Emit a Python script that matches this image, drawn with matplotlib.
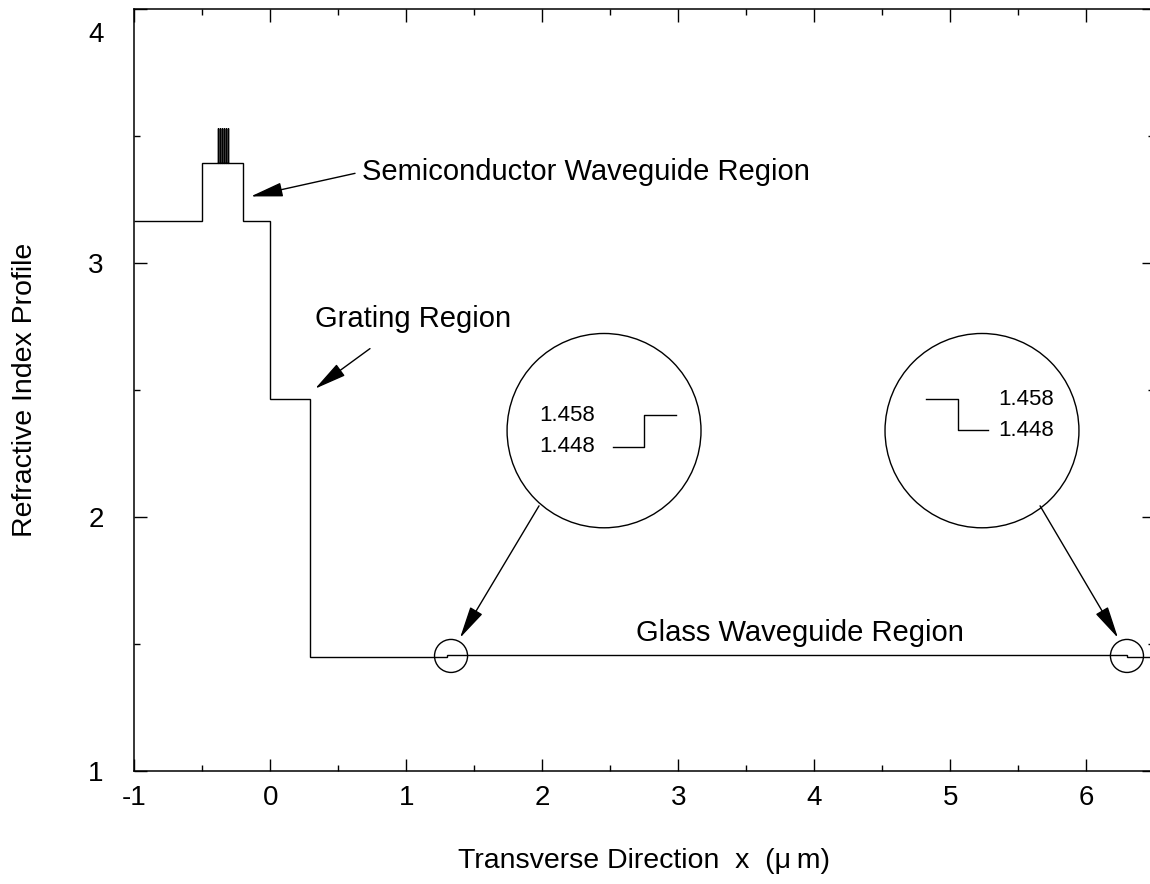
import matplotlib
matplotlib.use("Agg")
import matplotlib.pyplot as plt
from matplotlib.patches import Ellipse
from matplotlib.transforms import ScaledTranslation
from matplotlib.ticker import MultipleLocator

plt.rcParams['font.family'] = ['Liberation Sans', 'DejaVu Sans']

# Refractive index step profile (edges in um, values = index)
x_edges = [-1.0, -0.5, -0.388, -0.385, -0.373, -0.370, -0.358, -0.355, -0.343, -0.340,
           -0.328, -0.325, -0.314, -0.311, -0.2, 0.0, 0.29, 1.3, 6.3, 6.5]
n_values = [3.165, 3.395, 3.53, 3.395, 3.53, 3.395, 3.53, 3.395, 3.53, 3.395,
            3.53, 3.395, 3.53, 3.395, 3.165, 2.465, 1.448, 1.458, 1.448]

# Zoomed inset sketches
inset1_x = [2.522, 2.75, 2.75, 2.985]
inset1_y = [2.275, 2.275, 2.401, 2.401]
inset2_x = [4.824, 5.059, 5.059, 5.279]
inset2_y = [2.464, 2.464, 2.342, 2.342]
inset_labels = ["1.458", "1.448"]

x_ticks = [-1, 0, 1, 2, 3, 4, 5, 6]
y_ticks = [1, 2, 3, 4]

fig = plt.figure(figsize=(11.5, 8.84), dpi=100)
ax = fig.add_axes([134.3 / 1150, (884 - 771) / 884, (1154.3 - 134.3) / 1150, (771 - 9) / 884])

ax.stairs(n_values, x_edges, baseline=None, color='k', lw=1.0)

ax.set_xlim(-1, 6.5)
ax.set_ylim(1, 4)
ax.set_xticks(x_ticks)
ax.set_yticks(y_ticks)
ax.set_xticklabels([str(v) for v in x_ticks])
ax.set_yticklabels([str(v) for v in y_ticks])
ax.xaxis.set_minor_locator(MultipleLocator(0.5))
ax.yaxis.set_minor_locator(MultipleLocator(0.5))
ax.tick_params(which='both', direction='in', top=True, right=True, width=1.0)
ax.tick_params(which='major', length=9, labelsize=20)
ax.tick_params(which='minor', length=4.5)
ax.tick_params(axis='y', which='major', pad=22)
ax.tick_params(axis='x', which='major', pad=10)
for s in ax.spines.values():
    s.set_linewidth(1.1)

# shift the top "4" label down like the reference
for lab, v in zip(ax.get_yticklabels(), y_ticks):
    if v == 4:
        lab.set_transform(lab.get_transform() + ScaledTranslation(0, -0.23, fig.dpi_scale_trans))

ax.set_ylabel("Refractive Index Profile", fontsize=20.5, labelpad=36)
ax.set_xlabel("Transverse Direction  x  (\u03bc\u2009m)", fontsize=20.5, labelpad=27)

arrow = dict(arrowstyle='-|>,head_length=1.0,head_width=0.22', color='k', lw=1.0,
             shrinkA=0, shrinkB=0, mutation_scale=20)

ax.annotate("", xy=(-0.144, 3.262), xytext=(0.623, 3.353), arrowprops=arrow)
ax.text(0.674, 3.357, "Semiconductor Waveguide Region", fontsize=21, va='center', ha='left')

ax.annotate("", xy=(0.329, 2.505), xytext=(0.733, 2.663), arrowprops=arrow)
ax.text(0.329, 2.781, "Grating Region", fontsize=21, va='center', ha='left')

ax.annotate("", xy=(1.395, 1.524), xytext=(1.976, 2.044), arrowprops=arrow)
ax.annotate("", xy=(6.233, 1.524), xytext=(5.66, 2.044), arrowprops=arrow)

ax.text(3.895, 1.544, "Glass Waveguide Region", fontsize=21, va='center', ha='center')

for cx, cy, w, h in [(2.454, 2.340, 1.426, 0.765), (5.233, 2.340, 1.426, 0.765),
                     (1.329, 1.453, 0.243, 0.130), (6.299, 1.453, 0.243, 0.130)]:
    ax.add_patch(Ellipse((cx, cy), w, h, fill=False, ec='k', lw=1.0))

ax.plot(inset1_x, inset1_y, color='k', lw=1.0)
ax.plot(inset2_x, inset2_y, color='k', lw=1.0)
ax.text(2.387, 2.399, inset_labels[0], fontsize=16, ha='right', va='center')
ax.text(2.387, 2.277, inset_labels[1], fontsize=16, ha='right', va='center')
ax.text(5.351, 2.462, inset_labels[0], fontsize=16, ha='left', va='center')
ax.text(5.351, 2.340, inset_labels[1], fontsize=16, ha='left', va='center')

fig.savefig("out.png", dpi=100)
